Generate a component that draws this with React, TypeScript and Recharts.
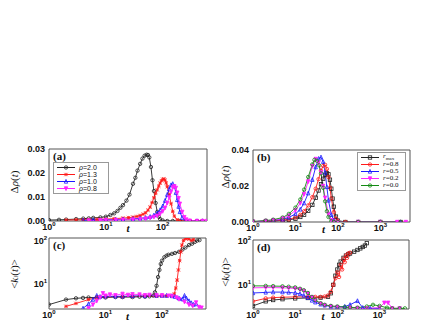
import React from "react";
import { LineChart, Line, XAxis, YAxis, ReferenceArea, Legend } from "recharts";

// ---- panel (a): Δρ(t) for different ρ ----
const tA20 = [1, 1.5, 2, 3, 4, 5, 6, 8, 10, 12, 14, 16, 18, 20, 23, 26, 30, 33, 36, 40, 44, 48, 52, 55, 58, 62, 66, 70, 75, 80, 85, 90, 100, 120, 150, 200, 300, 400, 500];
const vA20 = [0.0004, 0.0005, 0.0006, 0.0008, 0.001, 0.0011, 0.0013, 0.0015, 0.0018, 0.0025, 0.0032, 0.0042, 0.0055, 0.0066, 0.0085, 0.011, 0.0155, 0.018, 0.021, 0.0238, 0.026, 0.0272, 0.0276, 0.0275, 0.0265, 0.0225, 0.017, 0.0125, 0.0075, 0.0038, 0.0018, 0.0008, 0.0002, 0, 0, 0, 0, 0, 0];
const tA13 = [2, 3, 4, 5, 7, 10, 14, 20, 25, 30, 35, 40, 45, 50, 55, 60, 65, 70, 75, 80, 85, 90, 95, 100, 105, 110, 115, 120, 130, 140, 150, 160, 180, 200, 250, 300, 400, 500];
const vA13 = [0.0004, 0.0005, 0.0005, 0.0006, 0.0007, 0.0008, 0.001, 0.0012, 0.0014, 0.0016, 0.0019, 0.0023, 0.0028, 0.0034, 0.0045, 0.0058, 0.0077, 0.0097, 0.0115, 0.013, 0.0145, 0.0158, 0.0168, 0.0174, 0.0175, 0.017, 0.0158, 0.0143, 0.011, 0.0072, 0.004, 0.002, 0.0005, 0.0001, 0, 0, 0, 0];
const tA10 = [4, 6, 10, 15, 20, 30, 40, 50, 60, 70, 80, 90, 100, 110, 120, 130, 140, 150, 160, 170, 180, 190, 200, 220, 250, 300, 400, 500];
const vA10 = [0.0003, 0.0004, 0.0005, 0.0006, 0.0007, 0.0009, 0.0011, 0.0014, 0.0018, 0.0024, 0.0033, 0.0046, 0.0062, 0.0085, 0.011, 0.0133, 0.015, 0.0155, 0.0145, 0.0118, 0.0088, 0.006, 0.0038, 0.0014, 0.0003, 0, 0, 0];
const tA08 = [5, 8, 10, 15, 20, 30, 40, 50, 60, 70, 80, 90, 100, 110, 120, 130, 140, 150, 160, 170, 180, 190, 200, 220, 240, 260, 300, 400, 500, 600];
const vA08 = [0.0002, 0.0003, 0.0003, 0.0004, 0.0005, 0.0006, 0.0008, 0.001, 0.0013, 0.0017, 0.0022, 0.003, 0.0041, 0.0055, 0.0075, 0.0098, 0.0122, 0.014, 0.0145, 0.0138, 0.0118, 0.0095, 0.0072, 0.0038, 0.0016, 0.0006, 0.0001, 0, 0, 0];

// ---- panel (b): Δρ(t) for different r ----
const tBmax = [1, 2, 3, 5, 7, 10, 13, 16, 20, 25, 30, 35, 40, 45, 50, 55, 60, 65, 70, 75, 80, 90, 100, 150, 300, 1000, 3000];
const vBmax = [0.0001, 0.0003, 0.0005, 0.0008, 0.0012, 0.0018, 0.0028, 0.004, 0.0062, 0.0095, 0.0135, 0.0175, 0.021, 0.024, 0.0262, 0.0272, 0.0265, 0.0235, 0.0185, 0.013, 0.0085, 0.003, 0.0008, 0, 0, 0, 0];
const tB08 = [1, 2, 3, 5, 7, 10, 13, 16, 20, 25, 30, 35, 40, 45, 50, 55, 60, 65, 70, 80, 90, 100, 150, 300, 1000, 3000];
const vB08 = [0.0002, 0.0004, 0.0006, 0.001, 0.0015, 0.0025, 0.004, 0.006, 0.0092, 0.0138, 0.0185, 0.0238, 0.0285, 0.0312, 0.0318, 0.0295, 0.025, 0.019, 0.013, 0.0055, 0.0018, 0.0005, 0, 0, 0, 0];
const tB05 = [1, 2, 3, 5, 7, 10, 13, 16, 20, 25, 30, 35, 40, 45, 50, 55, 60, 70, 80, 100, 300, 1000, 3000];
const vB05 = [0.0002, 0.0005, 0.0008, 0.0015, 0.0025, 0.0045, 0.007, 0.0105, 0.016, 0.0235, 0.0305, 0.0352, 0.036, 0.0335, 0.0275, 0.0195, 0.012, 0.004, 0.001, 0, 0, 0, 0];
const tB02 = [1, 2, 3, 5, 7, 10, 13, 16, 20, 25, 30, 35, 40, 45, 50, 60, 70, 80, 100, 300, 1000, 2500, 4000];
const vB02 = [0.0002, 0.0006, 0.001, 0.002, 0.0035, 0.0065, 0.0105, 0.0155, 0.0225, 0.031, 0.035, 0.033, 0.0275, 0.02, 0.0135, 0.0045, 0.001, 0.0002, 0, 0, 0, 0, 0];
const tB00 = [1, 2, 3, 5, 7, 10, 13, 16, 20, 25, 28, 32, 36, 40, 45, 50, 55, 60, 70, 80, 100, 300, 1000, 3000];
const vB00 = [0.0003, 0.0008, 0.0013, 0.0025, 0.0045, 0.008, 0.0125, 0.018, 0.025, 0.032, 0.0345, 0.034, 0.0315, 0.027, 0.019, 0.0115, 0.006, 0.0028, 0.0005, 0, 0, 0, 0, 0];

// ---- panel (c): <k_i(t)> ----
const tC20 = [1, 2, 3, 4, 5, 7, 10, 15, 20, 30, 40, 50, 60, 70, 75, 80, 85, 90, 95, 100, 110, 120, 130, 150, 170, 200, 230, 260, 300, 340, 380, 420, 460];
const vC20 = [3.5, 4.5, 4.8, 4.9, 5, 5, 5, 5.1, 5.1, 5.1, 5.2, 5.2, 5.3, 5.5, 6.5, 9, 14, 20, 27, 32, 38, 41, 43, 45, 47, 50, 56, 62, 70, 75, 82, 88, 90];
const tC13 = [2, 3, 5, 7, 10, 20, 30, 50, 80, 100, 120, 150, 165, 175, 185, 195, 205, 215, 225, 240, 260, 280, 300, 330, 360];
const vC13 = [3.2, 3.7, 4.5, 5, 5.2, 5.2, 5.3, 5.3, 5.3, 5.4, 5.4, 5.5, 6, 8, 12, 20, 32, 50, 70, 88, 97, 98, 95, 88, 92];
const tC10 = [4, 5, 6, 7, 8, 10, 15, 20, 30, 50, 80, 100, 120, 150, 170, 200, 230, 250, 270, 300, 330, 360, 400];
const vC10 = [2.9, 3.6, 4.5, 5.5, 5.2, 5.3, 5.3, 5.3, 5.4, 5.4, 5.5, 5.5, 5.5, 5.4, 5.2, 4.8, 4.6, 5.5, 4.8, 4.2, 3.8, 3.5, 3.6];
const tC08 = [5, 6, 7, 8, 9, 10, 12, 15, 20, 25, 30, 40, 50, 60, 80, 100, 130, 150, 180, 200, 250, 300, 350, 400, 450, 500];
const vC08 = [2.9, 3.5, 4.2, 5, 6.2, 5.5, 5.8, 5.6, 6, 5.7, 5.9, 5.8, 5.6, 5.7, 5.6, 5.6, 5.5, 5.4, 5, 4.6, 4, 3.5, 3.3, 3.9, 3.1, 3];

// ---- panel (d): <k_j(t)> ----
const tDmax = [1, 2, 3, 5, 10, 20, 40, 60, 70, 80, 90, 100, 110, 120, 140, 160, 180, 200, 250, 300, 350, 400, 450, 500];
const vDmax = [3.4, 4.3, 4.6, 4.8, 5, 5.1, 5.2, 5.4, 6.5, 10, 16, 22, 28, 33, 40, 45, 48, 50, 55, 60, 65, 70, 75, 85];
const tD08 = [1, 2, 3, 5, 10, 20, 30, 40, 50, 60, 70, 80, 90, 100, 110, 120, 130, 140, 150, 160, 170, 180, 200];
const vD08 = [4.3, 5, 5.2, 5.3, 5.4, 5.4, 5.4, 5.4, 5.5, 5.8, 7, 10, 14, 19, 15, 28, 22, 38, 32, 45, 40, 50, 52];
const tD05 = [1, 2, 3, 5, 7, 10, 13, 16, 20, 25, 30, 40, 50, 70, 100, 150, 200, 300, 400, 600, 1000];
const vD05 = [6.6, 6.8, 6.9, 6.9, 6.8, 6.6, 6.3, 5.8, 5.2, 4.5, 4.1, 3.7, 3.5, 3.3, 3.2, 3.3, 3.6, 4.4, 3.1, 3.0, 3.0];
const tD02 = [1, 2, 3, 5, 7, 10, 13, 16, 20, 25, 30, 40, 50, 70, 100, 200, 300, 500, 1000, 1300, 1600, 2000, 3000];
const vD02 = [8.6, 8.7, 8.7, 8.6, 8.5, 8.3, 7.9, 7.3, 6.4, 5.3, 4.5, 3.8, 3.5, 3.3, 3.2, 3.1, 3.05, 3.0, 3.1, 4.0, 4.0, 3.0, 3.0];
const tD00 = [1, 2, 3, 5, 7, 10, 13, 16, 20, 25, 30, 40, 50, 70, 100, 150, 200, 300, 500, 700, 1000, 1500, 2000, 3000, 4000];
const vD00 = [9.5, 9.5, 9.4, 9.3, 9.1, 8.8, 8.2, 7.6, 6.6, 5.4, 4.6, 3.9, 3.6, 3.4, 3.3, 3.2, 3.15, 3.1, 3.3, 3.6, 3.4, 3.1, 3.0, 3.0, 3.0];

const ticks2 = [1, 10, 100];
const ticks3 = [1, 10, 100, 1000];
const ticksA = [0, 0.01, 0.02, 0.03];
const ticksB = [0, 0.01, 0.02, 0.03, 0.04];
const ticksK = [10, 100];

const SANS = "'Liberation Sans', Arial, sans-serif";
const SERIF = "'Liberation Serif', 'Times New Roman', serif";
const AXIS = "#555";

const BLACK = "#222";
const RED = "#ff1a1a";
const BLUE = "#1a1aff";
const MAG = "#ff22ff";
const GREEN = "#138a13";

const pts = (t: number[], v: number[]) => t.map((x, i) => ({ t: x, v: v[i] }));

function marker(shape: string, color: string, cx: number, cy: number, key?: any) {
  const s = 1.7;
  const sw = 0.8;
  if (shape === "square")
    return <rect key={key} x={cx - s} y={cy - s} width={2 * s} height={2 * s} fill="none" stroke={color} strokeWidth={sw} />;
  if (shape === "up")
    return <path key={key} d={`M${cx},${cy - s - 0.4}L${cx + s},${cy + s}L${cx - s},${cy + s}Z`} fill="none" stroke={color} strokeWidth={sw} />;
  if (shape === "down")
    return <path key={key} d={`M${cx},${cy + s + 0.4}L${cx + s},${cy - s}L${cx - s},${cy - s}Z`} fill={color} stroke={color} strokeWidth={sw} />;
  if (shape === "star")
    return <path key={key} d={`M${cx - s},${cy}L${cx + s},${cy}M${cx},${cy - s}L${cx},${cy + s}M${cx - s},${cy - s}L${cx + s},${cy + s}M${cx - s},${cy + s}L${cx + s},${cy - s}`} stroke={color} strokeWidth={sw} />;
  return <circle key={key} cx={cx} cy={cy} r={s} fill="none" stroke={color} strokeWidth={sw} />;
}

const dotFor = (shape: string, color: string) => (p: any) => {
  const { cx, cy, index } = p;
  if (cx == null || cy == null || isNaN(cx) || isNaN(cy)) return <g key={index} />;
  return marker(shape, color, cx, cy, index);
};

const PowX = (p: any) => {
  const e = Math.round(Math.log10(p.payload.value));
  return (
    <text x={p.x} y={p.y + 9} textAnchor="middle" fontFamily={SANS} fontWeight="bold" fontSize={9} fill="#111">
      10<tspan dy={-4} fontSize={6}>{e}</tspan>
    </text>
  );
};

const PowY = (p: any) => {
  const e = Math.round(Math.log10(p.payload.value));
  return (
    <text x={p.x - 2} y={p.y + 3} textAnchor="end" fontFamily={SANS} fontWeight="bold" fontSize={9} fill="#111">
      10<tspan dy={-4} fontSize={6}>{e}</tspan>
    </text>
  );
};

const LinY = (p: any) => (
  <text x={p.x - 4} y={p.y + 2.5} textAnchor="end" fontFamily={SANS} fontWeight="bold" fontSize={9} fill="#111">
    {Number(p.payload.value).toFixed(2)}
  </text>
);

type Series = { key: string; color: string; shape: string; data: { t: number; v: number }[] };
type Row = { color: string; shape: string; label: React.ReactNode };

interface PanelProps {
  left: number;
  top: number;
  width: number;
  height: number;
  plot: { x: number; y: number; w: number; h: number };
  xDomain: [number, number];
  xTicks: number[];
  yDomain: [number, number];
  yTicks: number[];
  yLog?: boolean;
  series: Series[];
  tag: string;
  yLabel: React.ReactNode;
  yLabelX: number;
  yLabelY: number;
  tShift: number;
  legend?: { x: number; y: number; w: number; rows: Row[]; font: string };
}

function Panel(props: PanelProps) {
  const { left, top, width, height, plot, xDomain, yDomain, yLog, series, legend } = props;
  const margin = { top: plot.y, right: width - plot.x - plot.w, left: 0, bottom: 0 };
  const xAxisH = height - plot.y - plot.h;

  return (
    <div style={{ position: "absolute", left, top, width, height }}>
      <LineChart width={width} height={height} margin={margin}>
        <XAxis
          dataKey="t"
          type="number"
          scale="log"
          domain={xDomain}
          allowDataOverflow
          ticks={props.xTicks}
          tick={PowX}
          tickSize={0}
          tickMargin={0}
          tickLine={false}
          axisLine={false}
          height={xAxisH}
          label={{
            content: (lp: any) => {
              const vb = lp.viewBox;
              return (
                <text x={vb.x + vb.width / 2 + props.tShift} y={vb.y + 11} textAnchor="middle" fontFamily={SERIF} fontStyle="italic" fontWeight="bold" fontSize={11} fill="#111">
                  t
                </text>
              );
            },
          }}
        />
        <YAxis
          dataKey="v"
          type="number"
          scale={yLog ? "log" : "linear"}
          domain={yDomain}
          allowDataOverflow
          ticks={props.yTicks}
          tick={yLog ? PowY : LinY}
          tickSize={0}
          tickMargin={0}
          tickLine={false}
          axisLine={false}
          width={plot.x}
          label={{
            content: () => (
              <text
                x={props.yLabelX}
                y={props.yLabelY}
                transform={`rotate(-90 ${props.yLabelX} ${props.yLabelY})`}
                textAnchor="middle"
                dominantBaseline="central"
                fontFamily={SERIF}
                fontSize={11}
                fill="#111"
              >
                {props.yLabel}
              </text>
            ),
          }}
        />
        {series.map((s) => (
          <Line
            key={s.key}
            data={s.data}
            dataKey="v"
            stroke={s.color}
            strokeWidth={0.9}
            dot={dotFor(s.shape, s.color)}
            activeDot={false}
            isAnimationActive={false}
          />
        ))}
        <ReferenceArea
          x1={xDomain[0]}
          x2={xDomain[1]}
          y1={yDomain[0]}
          y2={yDomain[1]}
          fill="none"
          stroke={AXIS}
          strokeWidth={1}
          ifOverflow="visible"
          label={{
            content: (lp: any) => {
              const vb = lp.viewBox;
              return (
                <text x={vb.x + 4} y={vb.y + 11} fontFamily={SERIF} fontWeight="bold" fontSize={11} fill="#111">
                  {props.tag}
                </text>
              );
            },
          }}
        />
        {legend && (
          <Legend
            layout="horizontal"
            verticalAlign="middle"
            align="center"
            wrapperStyle={{ left: legend.x, top: legend.y, width: legend.w, height: "auto" }}
            content={() => (
              <div style={{ border: "1px solid #999", background: "#fff", padding: "1px 2px", width: legend.w, boxSizing: "border-box" }}>
                {legend.rows.map((r, i) => (
                  <div key={i} style={{ display: "flex", alignItems: "center", height: 7, fontFamily: legend.font, fontSize: 7, lineHeight: "7px", color: "#111" }}>
                    <svg width={20} height={7} style={{ marginRight: 3 }}>
                      <line x1={1} x2={19} y1={3.5} y2={3.5} stroke={r.color} strokeWidth={1} />
                      {marker(r.shape, r.color, 10, 3.5)}
                    </svg>
                    <span>{r.label}</span>
                  </div>
                ))}
              </div>
            )}
          />
        )}
      </LineChart>
    </div>
  );
}

const rho = (v: string) => (
  <span>
    <i>ρ</i>={v}
  </span>
);
const rr = (v: string) => (
  <span>
    <i>r</i>={v}
  </span>
);

export default function App() {
  const seriesA: Series[] = [
    { key: "r20", color: BLACK, shape: "circle", data: pts(tA20, vA20) },
    { key: "r13", color: RED, shape: "star", data: pts(tA13, vA13) },
    { key: "r10", color: BLUE, shape: "up", data: pts(tA10, vA10) },
    { key: "r08", color: MAG, shape: "down", data: pts(tA08, vA08) },
  ];
  const seriesB: Series[] = [
    { key: "max", color: BLACK, shape: "square", data: pts(tBmax, vBmax) },
    { key: "b08", color: RED, shape: "circle", data: pts(tB08, vB08) },
    { key: "b05", color: BLUE, shape: "up", data: pts(tB05, vB05) },
    { key: "b02", color: MAG, shape: "down", data: pts(tB02, vB02) },
    { key: "b00", color: GREEN, shape: "circle", data: pts(tB00, vB00) },
  ];
  const seriesC: Series[] = [
    { key: "c20", color: BLACK, shape: "circle", data: pts(tC20, vC20) },
    { key: "c13", color: RED, shape: "star", data: pts(tC13, vC13) },
    { key: "c10", color: BLUE, shape: "up", data: pts(tC10, vC10) },
    { key: "c08", color: MAG, shape: "down", data: pts(tC08, vC08) },
  ];
  const seriesD: Series[] = [
    { key: "dmax", color: BLACK, shape: "square", data: pts(tDmax, vDmax) },
    { key: "d08", color: RED, shape: "circle", data: pts(tD08, vD08) },
    { key: "d05", color: BLUE, shape: "up", data: pts(tD05, vD05) },
    { key: "d02", color: MAG, shape: "down", data: pts(tD02, vD02) },
    { key: "d00", color: GREEN, shape: "circle", data: pts(tD00, vD00) },
  ];

  const rowsA: Row[] = [
    { color: BLACK, shape: "circle", label: rho("2.0") },
    { color: RED, shape: "star", label: rho("1.3") },
    { color: BLUE, shape: "up", label: rho("1.0") },
    { color: MAG, shape: "down", label: rho("0.8") },
  ];
  const rowsB: Row[] = [
    { color: BLACK, shape: "square", label: <span><i>r</i><sub style={{ fontSize: 5 }}>max</sub></span> },
    { color: RED, shape: "circle", label: rr("0.8") },
    { color: BLUE, shape: "up", label: rr("0.5") },
    { color: MAG, shape: "down", label: rr("0.2") },
    { color: GREEN, shape: "circle", label: rr("0.0") },
  ];

  return (
    <div style={{ position: "absolute", left: 0, top: 0, width: 436, height: 327, background: "#fff", overflow: "hidden" }}>
      <Panel
        left={0}
        top={140}
        width={215}
        height={95}
        plot={{ x: 49, y: 9, w: 158, h: 72 }}
        xDomain={[1, 600]}
        xTicks={ticks2}
        yDomain={[0, 0.03]}
        yTicks={ticksA}
        series={seriesA}
        tag="(a)"
        yLabel={<tspan>Δ<tspan fontStyle="italic">ρ</tspan>(<tspan fontStyle="italic">t</tspan>)</tspan>}
        yLabelX={14}
        yLabelY={42}
        tShift={0}
        legend={{ x: 53, y: 22, w: 56, rows: rowsA, font: SANS }}
      />
      <Panel
        left={205}
        top={140}
        width={225}
        height={95}
        plot={{ x: 48, y: 10, w: 157, h: 72 }}
        xDomain={[1, 5000]}
        xTicks={ticks3}
        yDomain={[0, 0.04]}
        yTicks={ticksB}
        series={seriesB}
        tag="(b)"
        yLabel={<tspan>Δ<tspan fontStyle="italic">ρ</tspan>(<tspan fontStyle="italic">t</tspan>)</tspan>}
        yLabelX={20}
        yLabelY={37}
        tShift={-8}
        legend={{ x: 152, y: 12, w: 49, rows: rowsB, font: SERIF }}
      />
      <Panel
        left={0}
        top={232}
        width={215}
        height={95}
        plot={{ x: 49, y: 6, w: 157, h: 71 }}
        xDomain={[1, 600]}
        xTicks={ticks2}
        yDomain={[2.8, 100]}
        yTicks={ticksK}
        yLog
        series={seriesC}
        tag="(c)"
        yLabel={<tspan>&lt;<tspan fontStyle="italic">k</tspan><tspan fontSize={7} dy={2} fontStyle="italic">i</tspan><tspan dy={-2}>(</tspan><tspan fontStyle="italic">t</tspan>)&gt;</tspan>}
        yLabelX={14}
        yLabelY={42}
        tShift={0}
      />
      <Panel
        left={205}
        top={232}
        width={225}
        height={95}
        plot={{ x: 48, y: 8, w: 156, h: 69 }}
        xDomain={[1, 5000]}
        xTicks={ticks3}
        yDomain={[2.9, 100]}
        yTicks={ticksK}
        yLog
        series={seriesD}
        tag="(d)"
        yLabel={<tspan>&lt;<tspan fontStyle="italic">k</tspan><tspan fontSize={7} dy={2} fontStyle="italic">j</tspan><tspan dy={-2}>(</tspan><tspan fontStyle="italic">t</tspan>)&gt;</tspan>}
        yLabelX={20}
        yLabelY={40}
        tShift={-8}
      />
    </div>
  );
}
